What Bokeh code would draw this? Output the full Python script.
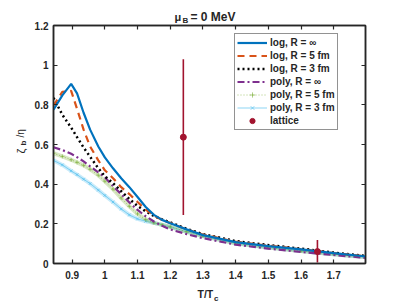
from bokeh.plotting import figure
from bokeh.models import (Range1d, LinearAxis, FixedTicker, Label, Legend, LegendItem,
                          ColumnDataSource)
from bokeh.embed import file_html
from bokeh.resources import INLINE
import math

# ---- data ----
T = [0.843, 0.87, 0.897, 0.915, 0.935, 0.955, 0.98, 1.0, 1.025, 1.05, 1.075, 1.1,
     1.125, 1.15, 1.175, 1.2, 1.25, 1.3, 1.4, 1.5, 1.6, 1.7, 1.8]
log_inf = [0.775, 0.848, 0.906, 0.858, 0.76, 0.675, 0.59, 0.535, 0.48, 0.43, 0.385, 0.335,
           0.285, 0.245, 0.22, 0.203, 0.172, 0.143, 0.108, 0.088, 0.071, 0.052, 0.035]
log_5 = [0.797, 0.865, 0.87, 0.78, 0.675, 0.59, 0.52, 0.47, 0.43, 0.385, 0.35, 0.31,
         0.272, 0.242, 0.22, 0.204, 0.172, 0.146, 0.11, 0.09, 0.072, 0.053, 0.036]
log_3 = [0.835, 0.75, 0.685, 0.637, 0.585, 0.538, 0.48, 0.44, 0.405, 0.365, 0.325, 0.29,
         0.263, 0.24, 0.222, 0.207, 0.175, 0.148, 0.113, 0.093, 0.075, 0.055, 0.038]
poly_inf = [0.586, 0.572, 0.553, 0.536, 0.515, 0.49, 0.46, 0.435, 0.39, 0.35, 0.308, 0.27,
            0.238, 0.212, 0.19, 0.172, 0.148, 0.128, 0.095, 0.075, 0.058, 0.043, 0.028]
poly_5 = [0.556, 0.54, 0.523, 0.51, 0.495, 0.475, 0.445, 0.415, 0.375, 0.33, 0.288, 0.25,
          0.222, 0.205, 0.195, 0.185, 0.16, 0.138, 0.102, 0.08, 0.063, 0.047, 0.031]
poly_3 = [0.52, 0.497, 0.467, 0.448, 0.425, 0.403, 0.37, 0.343, 0.31, 0.275, 0.245, 0.225,
          0.213, 0.205, 0.195, 0.185, 0.16, 0.138, 0.102, 0.08, 0.063, 0.047, 0.031]
T_lat = [1.24, 1.65]
zeta_lat = [0.637, 0.06]
zeta_lo = [0.245, 0.005]
zeta_hi = [1.03, 0.118]
x_ticks = [0.9, 1.0, 1.1, 1.2, 1.3, 1.4, 1.5, 1.6, 1.7]
x_tick_labels = ["0.9", "1", "1.1", "1.2", "1.3", "1.4", "1.5", "1.6", "1.7"]
y_ticks = [0, 0.2, 0.4, 0.6, 0.8, 1.0, 1.2]
y_tick_labels = ["0", "0.2", "0.4", "0.6", "0.8", "1", "1.2"]
X_MIN, X_MAX = 0.843, 1.797
Y_MIN, Y_MAX = 0.0, 1.2

FONT = "Liberation Sans"
AX = "#262626"

p = figure(width=403, height=303, output_backend="svg", toolbar_location=None,
           x_range=Range1d(X_MIN, X_MAX), y_range=Range1d(Y_MIN, Y_MAX),
           min_border_left=53, min_border_right=38, min_border_top=25, min_border_bottom=40)
p.title.visible = False
p.xgrid.visible = False
p.ygrid.visible = False
p.outline_line_color = AX
p.outline_line_width = 1.5
p.background_fill_color = "white"
p.border_fill_color = "white"

def style_axis(ax, ticks, labels, show):
    ax.ticker = FixedTicker(ticks=ticks)
    if show:
        ax.major_label_overrides = {t: l for t, l in zip(ticks, labels)}
    else:
        ax.major_label_overrides = {t: "" for t in ticks}
        ax.major_label_standoff = 0
    ax.minor_tick_line_color = None
    ax.major_tick_in = 4
    ax.major_tick_out = 0
    ax.major_tick_line_color = AX
    ax.major_tick_line_width = 1.2
    ax.axis_line_color = AX
    ax.axis_line_width = 1.5
    ax.major_label_text_font = FONT
    ax.major_label_text_font_style = "bold"
    ax.major_label_text_color = AX
    ax.major_label_text_font_size = "10px"

style_axis(p.xaxis[0], x_ticks, x_tick_labels, True)
style_axis(p.yaxis[0], y_ticks, y_tick_labels, True)
p.xaxis[0].major_label_standoff = 7
p.yaxis[0].major_label_standoff = 5
top_ax = LinearAxis()
right_ax = LinearAxis()
style_axis(top_ax, x_ticks, x_tick_labels, False)
style_axis(right_ax, y_ticks, y_tick_labels, False)
p.add_layout(top_ax, "above")
p.add_layout(right_ax, "right")

src = ColumnDataSource(dict(T=T, a=log_inf, b=log_5, c=log_3, d=poly_inf, e=poly_5, f=poly_3))

# poly R=3 fm (light blue, x markers -> fuzzy band)
f_band = p.line("T", "f", source=src, line_color="#4DBEEE", line_width=4, line_alpha=0.3)
f_line = p.line("T", "f", source=src, line_color="#4DBEEE", line_width=0.8, line_alpha=0.8)
f_mark = p.scatter("T", "f", source=src, marker="x", size=4, line_color="#4DBEEE", line_alpha=0.6)
# poly R=5 fm (green, + markers, dotted)
e_band = p.line("T", "e", source=src, line_color="#77AC30", line_width=4, line_alpha=0.28)
e_line = p.line("T", "e", source=src, line_color="#77AC30", line_width=0.8, line_dash="1 2", line_alpha=0.8)
e_mark = p.scatter("T", "e", source=src, marker="cross", size=4, line_color="#77AC30", line_alpha=0.6)
# poly R=inf (purple dash-dot)
d_line = p.line("T", "d", source=src, line_color="#7E2F8E", line_width=2.2, line_dash="7 3 2 3")
# log R=3 fm (black dotted)
c_line = p.line("T", "c", source=src, line_color="black", line_width=2.5, line_dash="2 3")
# log R=5 fm (orange dashed)
b_line = p.line("T", "b", source=src, line_color="#D95319", line_width=2.2, line_dash="7 5")
# log R=inf (blue solid)
a_line = p.line("T", "a", source=src, line_color="#0072BD", line_width=2.2)

lat = ColumnDataSource(dict(T=T_lat, z=zeta_lat, lo=zeta_lo, hi=zeta_hi))
lat_err = p.segment("T", "lo", "T", "hi", source=lat, line_color="#A2142F", line_width=1.6)
lat_pt = p.scatter("T", "z", source=lat, marker="circle", size=6,
                   fill_color="#A2142F", line_color="#A2142F")

legend = Legend(items=[
    LegendItem(label="log, R = \u221e", renderers=[a_line]),
    LegendItem(label="log, R = 5 fm", renderers=[b_line]),
    LegendItem(label="log, R = 3 fm", renderers=[c_line]),
    LegendItem(label="poly, R = \u221e", renderers=[d_line]),
    LegendItem(label="poly, R = 5 fm", renderers=[e_line, e_mark]),
    LegendItem(label="poly, R = 3 fm", renderers=[f_line, f_mark]),
    LegendItem(label="lattice", renderers=[lat_pt]),
], location=(181, 133))
legend.label_text_font = FONT
legend.label_text_font_style = "bold"
legend.label_text_font_size = "10px"
legend.label_text_color = AX
legend.padding = 2
legend.spacing = 0
legend.margin = 0
legend.glyph_width = 30
legend.glyph_height = 13
legend.label_height = 13
legend.label_standoff = 3
legend.border_line_color = AX
legend.border_line_width = 1.3
legend.background_fill_alpha = 1
p.add_layout(legend, "center")

def lab(text, place, ax_x, ax_y, dx, dy, size, angle=0.0, style="bold"):
    # anchored at a corner of the data frame, shifted by pixel offsets
    p.add_layout(Label(x=ax_x, y=ax_y, x_offset=dx, y_offset=dy, text=text,
                       text_font=FONT, text_font_size=size, text_font_style=style,
                       text_color=AX, angle=angle, text_baseline="alphabetic",
                       text_align="left"), place)

# title: mu_B = 0 MeV  (anchored at top-left corner of the frame)
lab("= 0 MeV", "above", X_MIN, Y_MAX, 137, 9, "12px")
lab("\u03bc", "right", X_MIN, Y_MAX, 121, 9, "11px")
lab("B", "right", X_MIN, Y_MAX, 129, 5.5, "8px")
# x label: T/T_c  (anchored at bottom-left corner)
lab("T/T", "below", X_MIN, Y_MIN, 144, -30, "10.5px")
lab("c", "right", X_MIN, Y_MIN, 160.5, -35, "8px")
# y label: zeta_b / eta (rotated)
lab("\u03b6", "left", X_MIN, Y_MIN, -33, 110, "11px", angle=math.pi / 2, style="normal")
lab("/\u03b7", "left", X_MIN, Y_MIN, -33, 126, "10px", angle=math.pi / 2, style="normal")
lab("b", "right", X_MIN, Y_MIN, -30, 118, "8px", angle=math.pi / 2)

open("out.html", "w").write(file_html(p, INLINE))
